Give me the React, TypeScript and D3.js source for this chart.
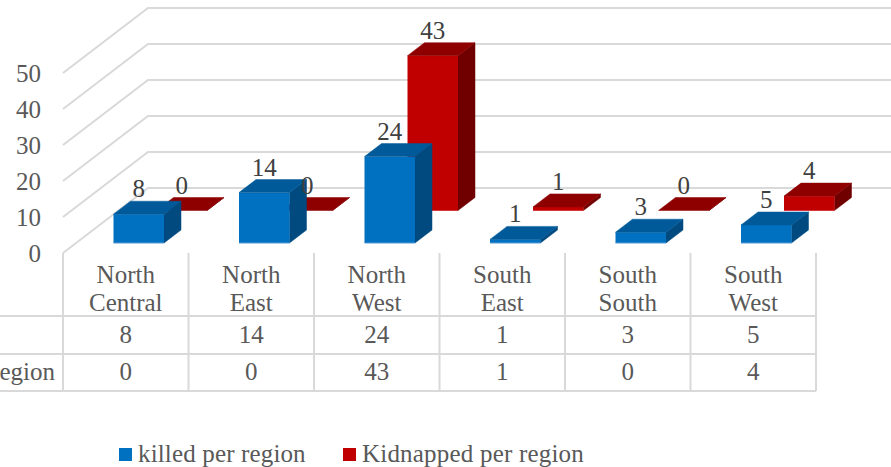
import React from 'react';
import * as d3 from 'd3';

const regions = [['North', 'Central'], ['North', 'East'], ['North', 'West'], ['South', 'East'], ['South', 'South'], ['South', 'West']];
const killed = [8, 14, 24, 1, 3, 5];
const kidnapped = [0, 0, 43, 1, 0, 4];
const yTicks = [0, 10, 20, 30, 40, 50];
const seriesNames = ['killed per region', 'Kidnapped per region'];

const W = 891;
const H = 467;
const FONT = '"Liberation Serif", serif';
const FONT_SIZE = 25;
const TEXT = '#595959';
const LABEL = '#404040';
const GRID = '#d9d9d9';

// front left corner of the floor, and how far the back wall is pushed
const x0 = 63;
const x1 = 816;
const floorY = 253;
const wallDx = 85;
const wallDy = -65;
const barW = 50.5;
const depthDx = 17;
const depthDy = -13;

const xScale = d3.scaleBand<number>().domain(d3.range(regions.length)).range([x0, x1]);
const yScale = d3.scaleLinear().domain([0, 50]).range([0, -180]);

const polygon = (pts: [number, number][]) => d3.line()(pts) + 'Z';

function Bar({ x, base, value, front, top, side, edge }: any) {
  const h = -yScale(value);
  const y = base - h;
  return (
    <g>
      {/* thin stroke on the side closes the seam against the front face */}
      <path d={polygon([[x + barW, base], [x + barW + depthDx, base + depthDy], [x + barW + depthDx, y + depthDy], [x + barW, y]])} fill={side} stroke={side} strokeWidth={0.5} />
      <rect x={x} y={y} width={barW} height={h} fill={front} />
      <path d={polygon([[x, y], [x + depthDx, y + depthDy], [x + barW + depthDx, y + depthDy], [x + barW, y]])} fill={top} stroke={top} strokeWidth={0.5} />
      {value > 0 && <line x1={x} x2={x + barW} y1={base} y2={base} stroke={edge} strokeWidth={1} />}
    </g>
  );
}

export default function App() {
  const rowLines = [316, 354, 391];
  const band = xScale.bandwidth();
  return (
    <svg width={W} height={H} viewBox={`0 0 ${W} ${H}`} style={{ position: 'absolute', left: 0, top: 0, background: '#fff' }} fontFamily={FONT} fontSize={FONT_SIZE}>
      {/* walls and gridlines */}
      {yTicks.map(t => {
        const y = floorY + yScale(t);
        return (
          <g key={t}>
            <path d={`M${x0},${y}L${x0 + wallDx},${y + wallDy}L${W},${y + wallDy}`} fill="none" stroke={GRID} strokeWidth={2} />
            <text x={41} y={y + 9} fill={TEXT} textAnchor="end">{t}</text>
          </g>
        );
      })}

      {/* data table */}
      {rowLines.map(y => <line key={y} x1={0} x2={x1} y1={y} y2={y} stroke={GRID} strokeWidth={2} />)}
      {d3.range(regions.length + 1).map(i => {
        const x = x0 + i * band;
        return <line key={i} x1={x} x2={x} y1={floorY} y2={391} stroke={GRID} strokeWidth={2} />;
      })}
      {regions.map((r, i) => {
        const cx = (xScale(i) as number) + band / 2;
        return (
          <g key={i} textAnchor="middle" fill={TEXT}>
            <text x={cx} y={283}>{r[0]}</text>
            <text x={cx} y={311}>{r[1]}</text>
            <text x={cx} y={343}>{killed[i]}</text>
            <text x={cx} y={380}>{kidnapped[i]}</text>
          </g>
        );
      })}
      <text x={-166} y={343} fill={TEXT}>{seriesNames[0]}</text>
      <text x={-163} y={380} fill={TEXT}>{seriesNames[1]}</text>

      {/* red series sits behind the blue one */}
      {regions.map((_, i) => (
        <Bar key={i} x={(xScale(i) as number) + 93.5} base={210.5} value={kidnapped[i]} front="#c00000" top="#8e0000" side="#700000" edge="#d9383a" />
      ))}
      {regions.map((_, i) => (
        <Bar key={i} x={(xScale(i) as number) + 50.5} base={243} value={killed[i]} front="#0070c0" top="#005a9a" side="#004a80" edge="#5b9bd5" />
      ))}

      {/* data labels */}
      {regions.map((_, i) => {
        const bx = (xScale(i) as number) + 50.5 + barW / 2;
        const rx = (xScale(i) as number) + 93.5 + barW / 2;
        const by = 243 + yScale(killed[i]) - 17;
        const ry = 210.5 + yScale(kidnapped[i]) - 17;
        return (
          <g key={i} textAnchor="middle" fill={LABEL}>
            <text x={bx} y={by}>{killed[i]}</text>
            <text x={rx} y={ry}>{kidnapped[i]}</text>
          </g>
        );
      })}

      {/* legend */}
      <rect x={119} y={448} width={13} height={13} fill="#0070c0" />
      <text x={138} y={462} fill={TEXT} letterSpacing={0.15}>{seriesNames[0]}</text>
      <rect x={343} y={448} width={13} height={13} fill="#c00000" />
      <text x={362} y={462} fill={TEXT} letterSpacing={0.2}>{seriesNames[1]}</text>
    </svg>
  );
}
